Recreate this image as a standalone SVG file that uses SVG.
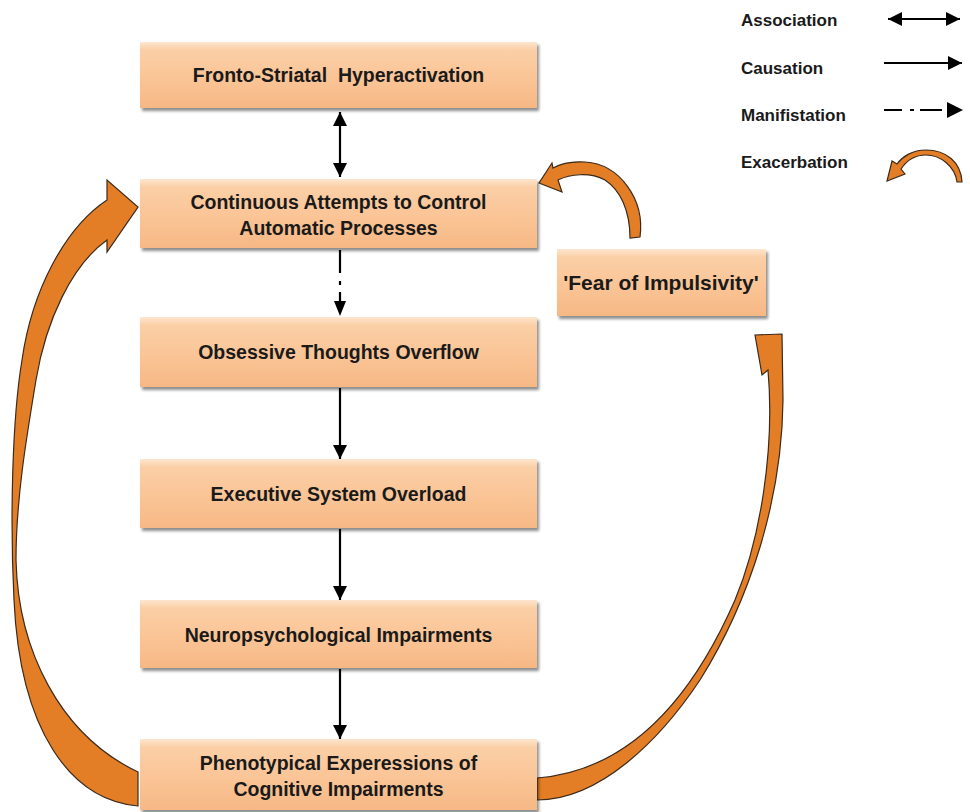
<svg xmlns="http://www.w3.org/2000/svg" width="970" height="812" viewBox="0 0 970 812">
<defs>
<linearGradient id="boxg" x1="0" y1="0" x2="0" y2="1">
<stop offset="0" stop-color="#FDE6CF"/>
<stop offset="0.12" stop-color="#FBCFA6"/>
<stop offset="0.6" stop-color="#FAC394"/>
<stop offset="1" stop-color="#F6B885"/>
</linearGradient>
<filter id="sh" x="-5%" y="-10%" width="112%" height="130%">
<feGaussianBlur in="SourceAlpha" stdDeviation="1.5"/>
<feOffset dx="1.5" dy="2.5" result="b"/>
<feComponentTransfer><feFuncA type="linear" slope="0.45"/></feComponentTransfer>
<feMerge><feMergeNode/><feMergeNode in="SourceGraphic"/></feMerge>
</filter>
<marker id="ah" viewBox="0 0 10 10" refX="10" refY="5" markerWidth="14" markerHeight="14" markerUnits="userSpaceOnUse" orient="auto-start-reverse">
<path d="M0,0 L10,5 L0,10 Z" fill="#000"/>
</marker>
</defs>
<style>
.box{fill:url(#boxg);filter:url(#sh);}
.t{font-family:"Liberation Sans",Arial,sans-serif;font-weight:bold;font-size:19.5px;fill:#1a1a1a;text-anchor:middle;white-space:pre;}
.lg{font-family:"Liberation Sans",Arial,sans-serif;font-weight:bold;font-size:17px;fill:#1a1a1a;}
.ln{stroke:#000;stroke-width:2.2;fill:none;}
.or{fill:#E37E26;stroke:#3b2a1c;stroke-width:1.2;stroke-linejoin:miter;}
</style>
<rect width="970" height="812" fill="#fff"/>

<g id="legend">
<text class="lg" x="741" y="26">Association</text>
<text class="lg" x="741" y="74">Causation</text>
<text class="lg" x="741" y="121">Manifistation</text>
<text class="lg" x="741" y="168">Exacerbation</text>
<line class="ln" x1="888" y1="19" x2="960" y2="19" marker-start="url(#ah)" marker-end="url(#ah)" stroke-width="2.6"/>
<line class="ln" x1="884" y1="63" x2="962" y2="63" marker-end="url(#ah)" stroke-width="2.6"/>
<path class="ln" d="M884,110 H902 M910,110 H914 M920,110 H942" stroke-width="2.6"/>
<path d="M947,102 L963,110 L947,118 Z" fill="#000"/>
<path class="or" d="M962,182 C961,162 946,150 926,150 C912,150 902,157 897,164 L892,161 L887,181 L905,174 L901,169 C907,160 915,155 926,155 C940,155 955,166 957,182 Z"/>
</g>

<g id="connectors">
<line class="ln" x1="340" y1="112" x2="340" y2="177" marker-start="url(#ah)" marker-end="url(#ah)"/>
<path class="ln" d="M340,250 V273 M340,281 V285 M340,292 V302"/>
<path d="M334,301 L340,316 L346,301 Z" fill="#000"/>
<line class="ln" x1="340" y1="388" x2="340" y2="459" marker-end="url(#ah)"/>
<line class="ln" x1="340" y1="529" x2="340" y2="600" marker-end="url(#ah)"/>
<line class="ln" x1="340" y1="669" x2="340" y2="739" marker-end="url(#ah)"/>
<path id="loop-left" class="or" d="M138,806 C70,800 20,730 14,600 C10,520 12,420 22,360 C32,290 65,228 107,200 L107,180 L138,207 L107,252 L107,240 C72,265 46,320 36,380 C26,440 16,500 16,560 C18,650 60,735 138,772 Z"/>
<path id="loop-right" class="or" d="M537,800 C600,800 660,740 700,680 C750,600 782,500 783,400 L782,334 L755,335 L762,375 L768,370 C775,450 760,540 735,600 C700,680 640,770 537,778 Z"/>
<path id="fear-loop" class="or" d="M640,237 C645,200 620,164 585,162 C570,161 560,164 553,168 L552,163 L539,183 L562,192 L558,180 C570,174 590,172 605,180 C620,190 630,210 630,238 Z"/>
</g>

<g id="n1"><rect class="box" x="140" y="42" width="397" height="66"/><text class="t" x="338.5" y="82" xml:space="preserve">Fronto-Striatal  Hyperactivation</text></g>
<g id="n2"><rect class="box" x="140" y="179" width="397" height="69"/><text class="t" x="338.5" y="209">Continuous Attempts to Control</text><text class="t" x="338.5" y="235">Automatic Processes</text></g>
<g id="n3"><rect class="box" x="140" y="317" width="397" height="70"/><text class="t" x="338.5" y="359">Obsessive Thoughts Overflow</text></g>
<g id="n4"><rect class="box" x="140" y="459" width="397" height="69"/><text class="t" x="338.5" y="501">Executive System Overload</text></g>
<g id="n5"><rect class="box" x="140" y="600" width="397" height="68"/><text class="t" x="338.5" y="642">Neuropsychological Impairments</text></g>
<g id="n6"><rect class="box" x="140" y="739" width="397" height="71"/><text class="t" x="338.5" y="770">Phenotypical Experessions of</text><text class="t" x="338.5" y="796">Cognitive Impairments</text></g>
<g id="n7"><rect class="box" x="557" y="249" width="209" height="67"/><text class="t" x="661" y="290" style="font-size:21px">'Fear of Impulsivity'</text></g>
</svg>
